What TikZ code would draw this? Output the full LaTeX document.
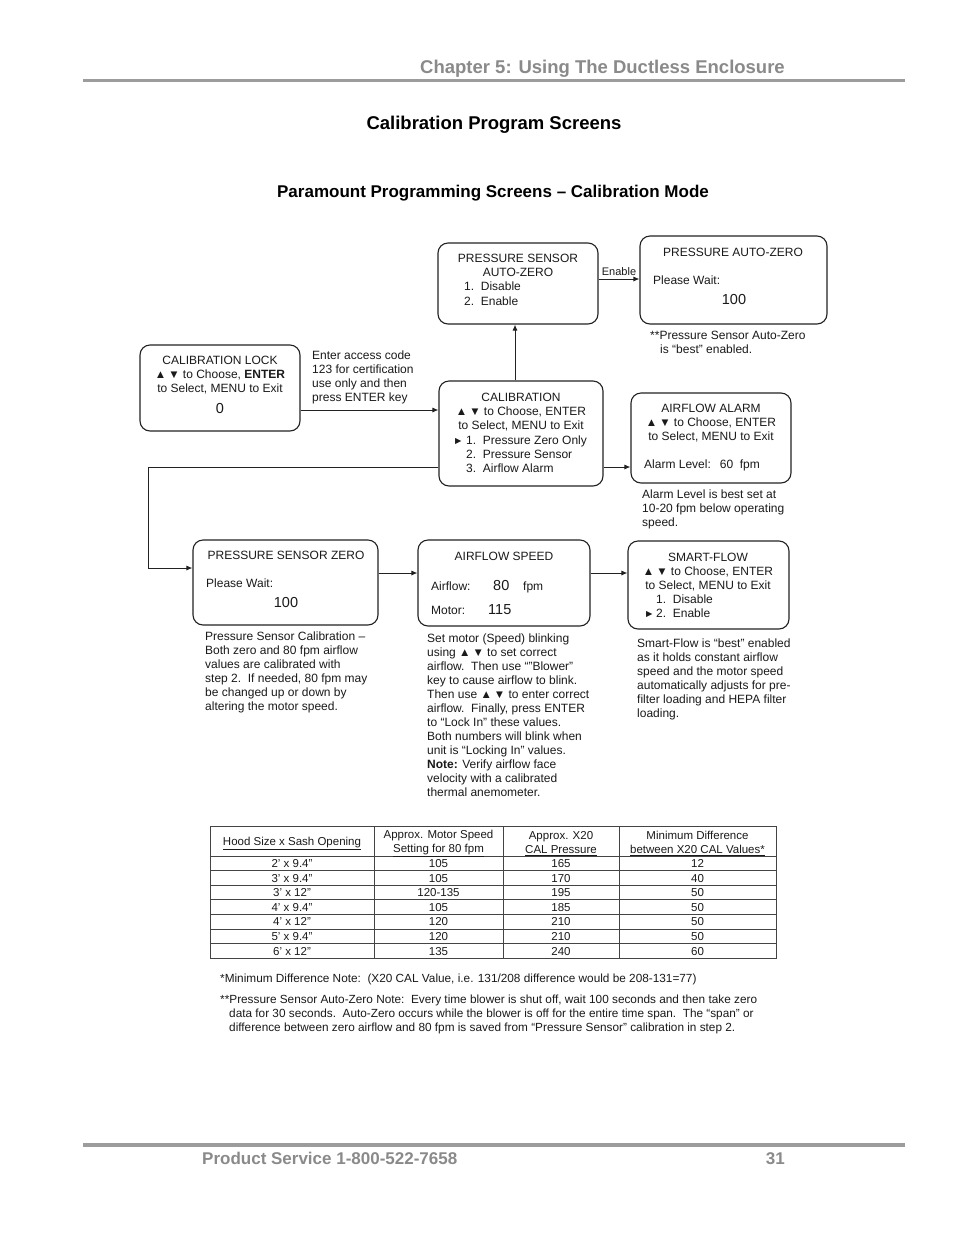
\documentclass[tikz,border=0pt]{standalone}
\usepackage{fontspec}
\setmainfont{Liberation Sans}
\usetikzlibrary{arrows.meta,positioning,calc}
\definecolor{ctextdark}{HTML}{1A1A1A}
\definecolor{cheadgray}{HTML}{8A8A8A}
\definecolor{crulegray}{HTML}{9C9C9C}
\definecolor{cline}{HTML}{222222}
\definecolor{cgrid}{HTML}{444444}
\newcommand{\updown}{{\fontsize{11.5}{11}\selectfont ▲\,▼}}
\newcommand{\pointer}{{\fontsize{10.5}{10}\selectfont ►}}

\begin{document}
\begin{tikzpicture}[
    x=1pt, y=-1pt,
    >={Latex[length=6pt,width=5pt]},
    font=\fontsize{12}{14}\selectfont,
    screen/.style={
        rounded corners=10pt,
        draw=cline, line width=1.1pt,
    },
    boxtext/.style={inner sep=0pt, align=center, anchor=north, text=ctextdark},
    linetext/.style={inner sep=0pt, anchor=base west, text=ctextdark},
    bignum/.style={inner sep=0pt, anchor=base, text=ctextdark, font=\fontsize{14.5}{16}\selectfont},
    note/.style={inner sep=0pt, align=left, anchor=north west, text=ctextdark},
    flow/.style={->, line width=0.9pt, draw=cline},
    pagehead/.style={inner sep=0pt, text=cheadgray, font=\fontsize{18.5}{20}\selectfont\bfseries},
    tabtext/.style={inner sep=0pt, anchor=base, text=ctextdark, font=\fontsize{11.5}{14}\selectfont},
    footnote/.style={inner sep=0pt, align=left, text=ctextdark, font=\fontsize{11.8}{14}\selectfont},
]

\useasboundingbox (0,0) rectangle (954,1235);
\fill[white] (0,0) rectangle (954,1235);

% ============================================================
% PAGE HEADER
% ============================================================
\node[pagehead, anchor=base east] (chapter) at (785,73.5) {Chapter 5: Using The Ductless Enclosure};
\draw[crulegray, line width=3pt] (83,80) -- (905,80);

\node[inner sep=0pt, anchor=base, font=\fontsize{18.5}{20}\selectfont\bfseries] (pagetitle) at (494,129) {Calibration Program Screens};
\node[inner sep=0pt, anchor=base, font=\fontsize{17}{20}\selectfont\bfseries] (flowtitle) at (493,197) {Paramount Programming Screens -- Calibration Mode};

% ============================================================
% TOP ROW: auto-zero screens
% ============================================================
\node[screen, minimum width=160pt, minimum height=81pt] (psaz) at (518,283.5) {};
\node[boxtext] (psaz_t) at (518,253.7) {PRESSURE SENSOR\\AUTO-ZERO};
\node[note] (psaz_l) at (464,281.7) {1.\ \ Disable\\[1pt]2.\ \ Enable};

\node[screen, minimum width=187pt, minimum height=88pt] (paz) at (733.5,280) {};
\node[boxtext] (paz_t) at (733,247.7) {PRESSURE AUTO-ZERO};
\node[linetext] (paz_w) at (653,284.3) {Please Wait:};
\node[bignum] (paz_n) at (734,304.2) {100};
\node[note] (paz_note) at (650,330.7) {**Pressure Sensor Auto-Zero\\\hspace*{10pt}is “best” enabled.};

\draw[flow] ([yshift=4.5pt]psaz.east) -- ([yshift=4.5pt]psaz.east -| paz.west)
    node[midway, above=3pt, inner sep=0pt, font=\fontsize{11}{12}\selectfont, text=ctextdark] (enable) {Enable};

% ============================================================
% MIDDLE ROW: lock, calibration menu, alarm
% ============================================================
\node[screen, minimum width=160pt, minimum height=86pt] (lock) at (220,388) {};
\node[boxtext] (lock_t) at (220,355.7) {CALIBRATION LOCK\\\updown\ to Choose, \textbf{ENTER}\\to Select, MENU to Exit};
\node[bignum] (lock_n) at (220,413.2) {0};

\node[note] (access) at (312,350.7) {Enter access code\\123 for certification\\use only and then\\press ENTER key};

\node[screen, minimum width=164pt, minimum height=105pt] (cal) at (521,433.5) {};
\node[boxtext] (cal_t) at (521,392.7) {CALIBRATION\\\updown\ to Choose, ENTER\\to Select, MENU to Exit};
\node[note] (cal_l) at (453,435.7) {\makebox[13pt][l]{\pointer}1.\ \ Pressure Zero Only\\
    \hspace*{13pt}2.\ \ Pressure Sensor\\\hspace*{13pt}3.\ \ Airflow Alarm};

\node[screen, minimum width=160pt, minimum height=90pt] (alarm) at (711,438) {};
\node[boxtext] (alarm_t) at (711,403.7) {AIRFLOW ALARM\\\updown\ to Choose, ENTER\\to Select, MENU to Exit};
\node[linetext] (alarm_l) at (644,468.3) {Alarm Level:\hspace{9pt}60\ \ fpm};
\node[note] (alarm_note) at (642,489.7) {Alarm Level is best set at\\10-20 fpm below operating\\speed.};

\draw[flow] ([yshift=-22pt]lock.east) -- ([yshift=-22pt]lock.east -| cal.west);
\draw[flow] ([xshift=-6pt]cal.north) -- ([xshift=-6pt]cal.north |- psaz.south);
\draw[flow] ([yshift=-33.5pt]cal.east) -- ([yshift=-33.5pt]cal.east -| alarm.west);

% ============================================================
% BOTTOM ROW: zero, speed, smart-flow
% ============================================================
\node[screen, minimum width=185pt, minimum height=85pt] (pszero) at (285.5,582.5) {};
\node[boxtext] (pszero_t) at (286,550.7) {PRESSURE SENSOR ZERO};
\node[linetext] (pszero_w) at (206,587.3) {Please Wait:};
\node[bignum] (pszero_n) at (286,607.2) {100};
\node[note] (pszero_note) at (205,631.7) {Pressure Sensor Calibration --\\Both zero and 80 fpm airflow\\
    values are calibrated with\\step 2.\ \ If needed, 80 fpm may\\be changed up or down by\\altering the motor speed.};

\node[screen, minimum width=172pt, minimum height=86pt] (speed) at (504,583) {};
\node[boxtext] (speed_t) at (504,551.7) {AIRFLOW SPEED};
\node[linetext] (speed_a) at (431,590.3) {Airflow:};
\node[bignum, anchor=base west] (speed_an) at (493,590.2) {80};
\node[linetext] (speed_au) at (523,590.3) {fpm};
\node[linetext] (speed_m) at (431,614.3) {Motor:};
\node[bignum, anchor=base west] (speed_mn) at (488,614.2) {115};
\node[note] (speed_note) at (427,633.7) {Set motor (Speed) blinking\\using \updown\ to set correct\\
    airflow.\ \ Then use “"Blower”\\key to cause airflow to blink.\\Then use \updown\ to enter correct\\
    airflow.\ \ Finally, press ENTER\\to “Lock In” these values.\\Both numbers will blink when\\
    unit is “Locking In” values.\\\textbf{Note:} Verify airflow face\\velocity with a calibrated\\thermal anemometer.};

\node[screen, minimum width=161pt, minimum height=88pt] (smart) at (708.5,585) {};
\node[boxtext] (smart_t) at (708,552.7) {SMART-FLOW\\\updown\ to Choose, ENTER\\to Select, MENU to Exit};
\node[note] (smart_l) at (644,594.7) {\hspace*{12pt}1.\ \ Disable\\\makebox[12pt][l]{\pointer}2.\ \ Enable};
\node[note] (smart_note) at (637,638.7) {Smart-Flow is “best” enabled\\as it holds constant airflow\\
    speed and the motor speed\\automatically adjusts for pre-\\filter loading and HEPA filter\\loading.};

\coordinate (detour) at (148,568);
\draw[flow] ([yshift=-33.5pt]cal.west) -| (detour) -- (detour -| pszero.west);
\draw[flow] ([yshift=9.5pt]pszero.east) -- ([yshift=9.5pt]pszero.east -| speed.west);
\draw[flow] ([yshift=10pt]speed.east) -- ([yshift=10pt]speed.east -| smart.west);

% ============================================================
% CALIBRATION TABLE
% ============================================================
\draw[cgrid, line width=0.8pt] (210,826) rectangle (776,958.2);
\foreach \cx in {374,503,619}
    \draw[cgrid, line width=0.8pt] (\cx,826) -- (\cx,958.2);
\foreach \r in {0,...,6}
    \draw[cgrid, line width=0.8pt] (210,856+14.6*\r) -- (776,856+14.6*\r);

\node[tabtext] (hd_hood) at (292,845) {\underline{Hood Size x Sash Opening}};
\node[tabtext, anchor=center, align=center] (hd_motor) at (438.5,843.5) {Approx. Motor Speed\\\underline{Setting for 80 fpm}};
\node[tabtext, anchor=center, align=center] (hd_pres) at (561,843.5) {Approx. X20\\\underline{CAL Pressure}};
\node[tabtext, anchor=center, align=center] (hd_diff) at (697.5,843.5) {Minimum Difference\\\underline{between X20 CAL Values*}};

\foreach \hood/\motor/\pres/\diff [count=\i] in {
    2' x 9.4"/105/165/12, 3' x 9.4"/105/170/40, 3' x 12"/120-135/195/50,
    4' x 9.4"/105/185/50, 4' x 12"/120/210/50, 5' x 9.4"/120/210/50,
    6' x 12"/135/240/60} {
    \pgfmathsetmacro\ry{856+14.6*(\i-0.5)+4.1}
    \node[tabtext] (hood\i) at (292,\ry) {\hood};
    \node[tabtext] (motor\i) at (438.5,\ry) {\motor};
    \node[tabtext] (pres\i) at (561,\ry) {\pres};
    \node[tabtext] (diff\i) at (697.5,\ry) {\diff};
}

% ============================================================
% FOOTNOTES
% ============================================================
\node[footnote, anchor=base west] (fn_min) at (220,982) {*Minimum Difference Note:\ \ (X20 CAL Value, i.e. 131/208 difference would be 208-131=77)};
\node[footnote, anchor=north west] (fn_auto) at (220,995) {**Pressure Sensor Auto-Zero Note:\ \ Every time blower is shut off, wait 100 seconds and then take zero\\
    \hspace*{9pt}data for 30 seconds.\ \ Auto-Zero occurs while the blower is off for the entire time span.\ \ The “span” or\\
    \hspace*{9pt}difference between zero airflow and 80 fpm is saved from “Pressure Sensor” calibration in step 2.};

% ============================================================
% PAGE FOOTER
% ============================================================
\draw[crulegray, line width=3.5pt] (83,1145) -- (905,1145);
\node[pagehead, anchor=base west, font=\fontsize{17}{20}\selectfont\bfseries] (service) at (202,1164) {Product Service 1-800-522-7658};
\node[pagehead, anchor=base east, font=\fontsize{17}{20}\selectfont\bfseries] (pagenum) at (785,1164) {31};

\end{tikzpicture}
\end{document}
